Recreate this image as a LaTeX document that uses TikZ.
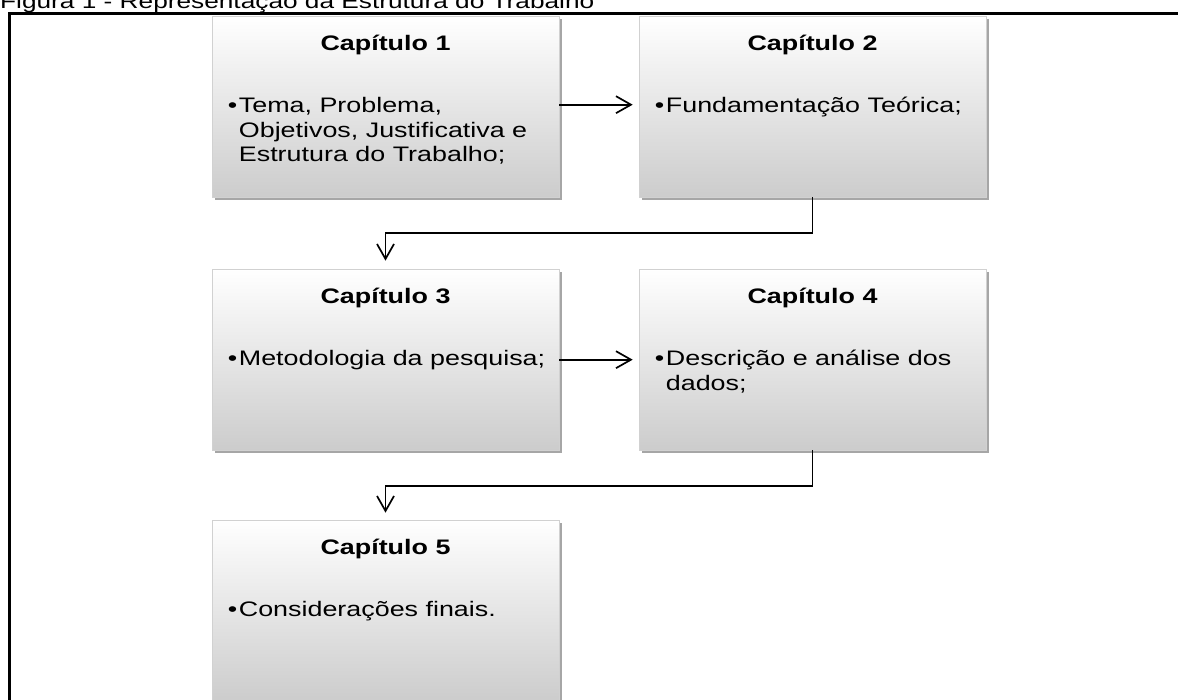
\documentclass[tikz,border=0pt]{standalone}
\usepackage{fontspec}
\setmainfont{Liberation Sans}[FakeStretch=1.28]
\usetikzlibrary{arrows.meta,shadows,calc}
\begin{document}
\begin{tikzpicture}[x=1pt,y=1pt,
  chapbox/.style={rectangle, minimum width=347pt, minimum height=181pt, inner sep=0pt,
    top color=white, bottom color=black!20, draw=black!18, line width=0.6pt,
    drop shadow={shadow xshift=2.5pt, shadow yshift=-3pt, opacity=0.35, fill=black}},
  chaptitle/.style={font=\fontsize{21}{24}\selectfont\bfseries, anchor=base, inner sep=0pt},
  bodytxt/.style={font=\fontsize{21}{24.5}\selectfont, anchor=base west, inner sep=0pt, align=left},
  conn/.style={line width=1.7pt, -{Straight Barb[length=15pt,width=17pt,line width=1.7pt]}},
  frameline/.style={line width=3pt}
]
\path[use as bounding box] (0,0) rectangle (1178,700);
\clip (0,0) rectangle (1178,700);

% caption (cut at the top)
\node[anchor=base west, font=\fontsize{20.5}{24}\selectfont, inner sep=0pt] (fig) at (0,691)
  {Figura 1 - Representação da Estrutura do Trabalho};

% frame
\draw[frameline] (1195,686.5) -- (9,686.5) -- (9,-20);

% boxes
\node[chapbox] (b1) at (385.5,593.5) {};
\node[chapbox] (b2) at (812.5,593.5) {};
\node[chapbox] (b3) at (385.5,340.5) {};
\node[chapbox] (b4) at (812.5,340.5) {};
\node[chapbox] (b5) at (385.5,89.5) {};

% titles
\node[chaptitle] (t1) at ($(b1.north)+(0,-35)$) {Capítulo 1};
\node[chaptitle] (t2) at ($(b2.north)+(0,-35)$) {Capítulo 2};
\node[chaptitle] (t3) at ($(b3.north)+(0,-35)$) {Capítulo 3};
\node[chaptitle] (t4) at ($(b4.north)+(0,-35)$) {Capítulo 4};
\node[chaptitle] (t5) at ($(b5.north)+(0,-35)$) {Capítulo 5};

% bodies
\newcommand{\bul}[1]{\makebox[11pt][l]{•}\begin{tabular}[t]{@{}l@{}}#1\end{tabular}}
\node[bodytxt] (c1) at ($(b1.north west)+(16,-97)$) {\bul{Tema, Problema,\\Objetivos, Justificativa e\\Estrutura do Trabalho;}};
\node[bodytxt] (c2) at ($(b2.north west)+(16,-97)$) {\bul{Fundamentação Teórica;}};
\node[bodytxt] (c3) at ($(b3.north west)+(16,-97)$) {\bul{Metodologia da pesquisa;}};
\node[bodytxt] (c4) at ($(b4.north west)+(16,-97)$) {\bul{Descrição e análise dos\\dados;}};
\node[bodytxt] (c5) at ($(b5.north west)+(16,-97)$) {\bul{Considerações finais.}};

% connectors
\draw[conn] ($(b1.north east)+(0,-89)$) -- ($(b2.north west)+(-6,-89)$);
\draw[conn] ($(b3.north east)+(0,-91)$) -- ($(b4.north west)+(-6,-91)$);
\draw[conn] (b2.south) -- ++(0,-36) -| ($(b3.north)+(0,8)$);
\draw[conn] (b4.south) -- ++(0,-36) -| ($(b5.north)+(0,7)$);
\end{tikzpicture}
\end{document}
